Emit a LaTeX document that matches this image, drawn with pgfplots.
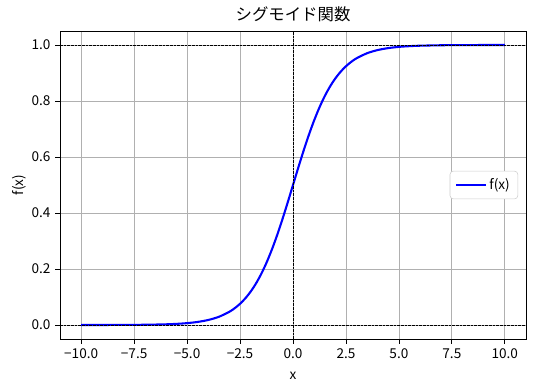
\documentclass[border=0pt]{standalone}
\usepackage{pgfplots}
\pgfplotsset{compat=1.18}
\usepackage{fontspec}
\setmainfont{Noto Sans CJK JP}
\begin{document}
\begin{tikzpicture}
\path[use as bounding box] (-45pt,-38.25pt) rectangle (355.5pt,254.25pt);
\begin{axis}[
  at={(0,0)}, anchor=south west,
  scale only axis, width=349.5pt, height=231pt,
  xmin=-11, xmax=11, ymin=-0.05, ymax=1.05,
  xtick={-10,-7.5,-5,-2.5,0,2.5,5,7.5,10},
  xticklabels={−10.0,−7.5,−5.0,−2.5,0.0,2.5,5.0,7.5,10.0},
  ytick={0,0.2,0.4,0.6,0.8,1.0},
  yticklabels={0.0,0.2,0.4,0.6,0.8,1.0},
  tick label style={font=\fontsize{10.2}{12}\selectfont, black},
  label style={font=\fontsize{10.2}{12}\selectfont},
  tick align=outside, major tick length=3.65pt,
  tick style={black, line width=0.6pt},
  xtick pos=bottom, ytick pos=left,
  axis line style={line width=0.6pt},
  grid=major, grid style={color=black!31, line width=0.6pt},
  xlabel={x}, ylabel={f(x)},
  xlabel style={at={(axis description cs:0.5,0)}, anchor=north, yshift=-21pt},
  ylabel style={at={(axis description cs:0,0.5)}, anchor=south, yshift=22pt},
  title={シグモイド関数},
  title style={font=\fontsize{12.3}{14}\selectfont, yshift=-3pt},
  legend style={at={(axis description cs:0.983,0.5)}, anchor=east,
    draw=black!20, rounded corners=2.5pt, font=\fontsize{10.2}{12}\selectfont,
    inner xsep=4pt, inner ysep=3.5pt},
  legend cell align=left,
  legend image code/.code={\draw[#1] (0pt,0pt) -- (22pt,0pt);},
]
\addplot[blue, line width=1.56pt, smooth] coordinates {
(-10,0.0000454) (-9,0.000123) (-8,0.000335) (-7,0.000911) (-6,0.00247)
(-5.5,0.00407) (-5,0.00669) (-4.5,0.0110) (-4,0.0180) (-3.5,0.0293)
(-3,0.0474) (-2.75,0.0601) (-2.5,0.0759) (-2.25,0.0953) (-2,0.1192)
(-1.75,0.1480) (-1.5,0.1824) (-1.25,0.2227) (-1,0.2689) (-0.75,0.3208)
(-0.5,0.3775) (-0.25,0.4378) (0,0.5) (0.25,0.5622) (0.5,0.6225)
(0.75,0.6792) (1,0.7311) (1.25,0.7773) (1.5,0.8176) (1.75,0.8520)
(2,0.8808) (2.25,0.9047) (2.5,0.9241) (2.75,0.9399) (3,0.9526)
(3.5,0.9707) (4,0.9820) (4.5,0.9890) (5,0.9933) (5.5,0.9959)
(6,0.9975) (7,0.9991) (8,0.9997) (9,0.9999) (10,1.0000)
};
\addlegendentry{f(x)}
\addplot[black, line width=0.52pt, dash pattern=on 1.9pt off 0.85pt, forget plot] coordinates {(-11,0) (11,0)};
\addplot[black, line width=0.52pt, dash pattern=on 1.9pt off 0.85pt, forget plot] coordinates {(-11,1) (11,1)};
\addplot[black, line width=0.52pt, dash pattern=on 1.9pt off 0.85pt, forget plot] coordinates {(0,-0.05) (0,1.05)};
\end{axis}
\end{tikzpicture}
\end{document}
